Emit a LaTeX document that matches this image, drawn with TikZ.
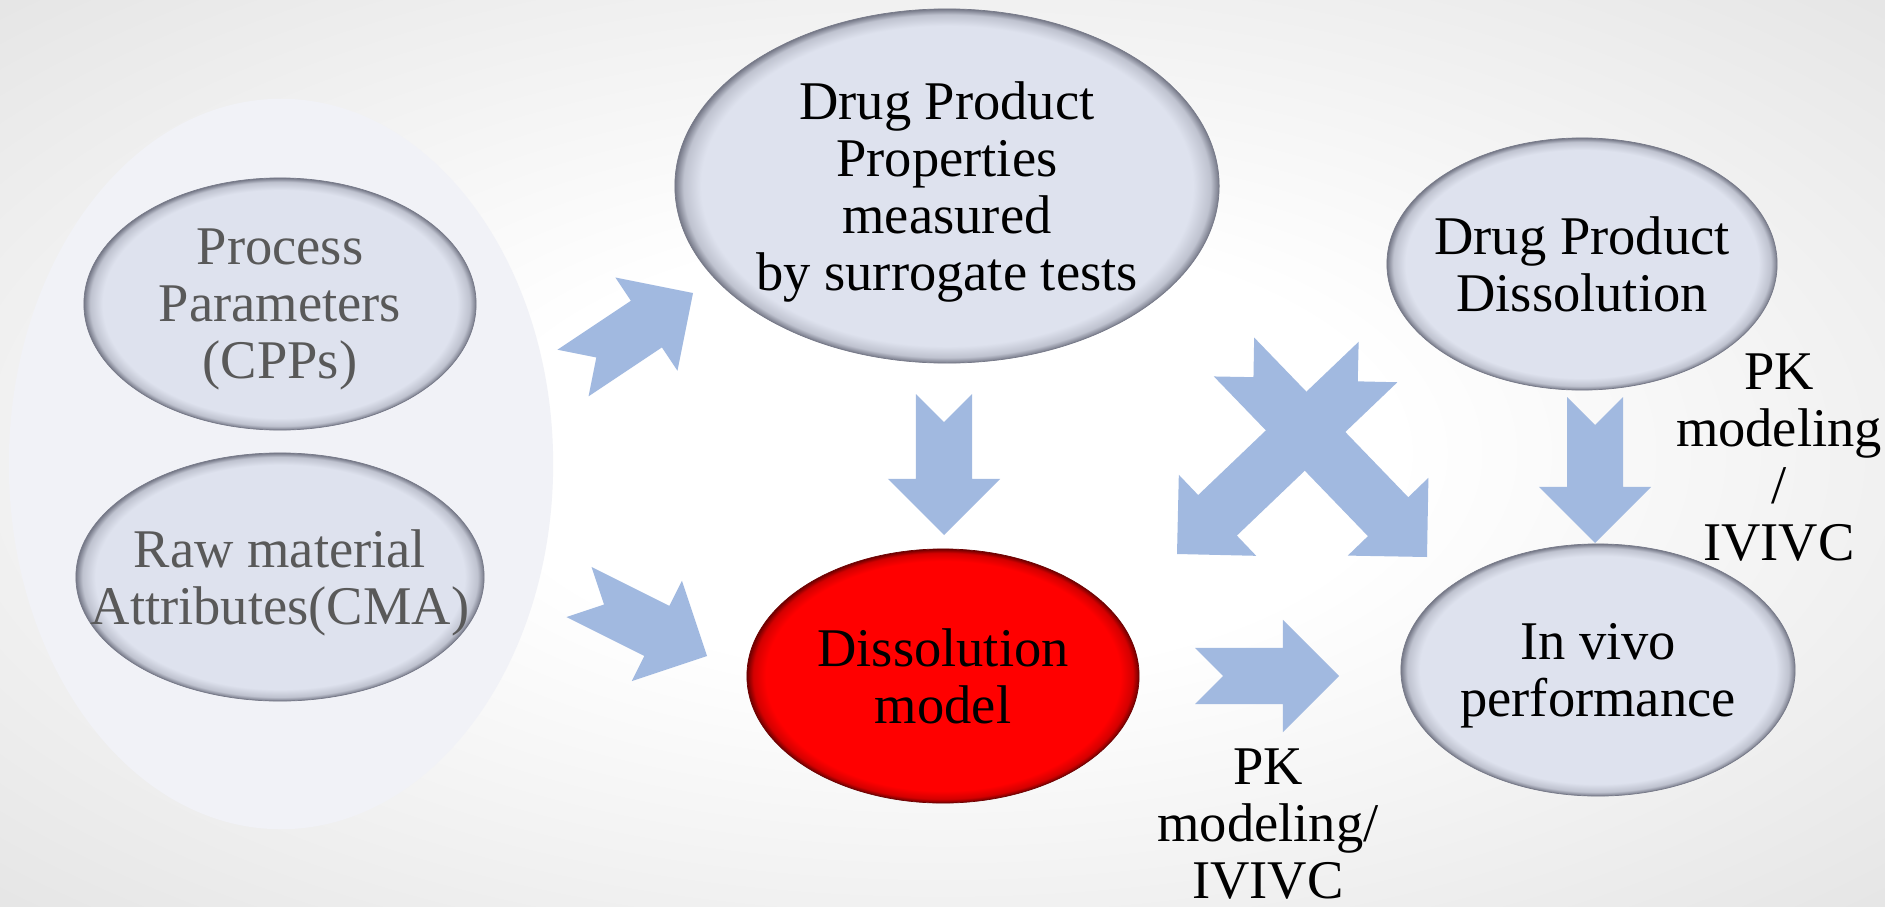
\documentclass[tikz,border=0pt]{standalone}
\usepackage{fontspec}
\setmainfont{Liberation Serif}
\usetikzlibrary{calc,shapes.geometric}

\definecolor{blobfill}{RGB}{222,226,238}
\definecolor{blobrim}{RGB}{118,121,136}
\definecolor{modelfill}{RGB}{255,0,0}
\definecolor{modelrim}{RGB}{110,0,0}
\definecolor{groupfill}{RGB}{241,242,247}
\definecolor{arrowblue}{RGB}{161,185,224}
\definecolor{labelgray}{RGB}{89,89,89}
\definecolor{bgedge}{RGB}{229,229,229}

\pgfdeclareradialshading{blobshade}{\pgfpointorigin}{color(0bp)=(blobfill); color(22.6bp)=(blobfill); color(24.2bp)=(blobfill!70!blobrim); color(25bp)=(blobrim); color(50bp)=(blobrim)}
\pgfdeclareradialshading{modelshade}{\pgfpointorigin}{color(0bp)=(modelfill); color(22.6bp)=(modelfill); color(24.2bp)=(modelfill!70!modelrim); color(25bp)=(modelrim); color(50bp)=(modelrim)}
\pgfdeclareradialshading{glow}{\pgfpointorigin}{color(0bp)=(white); color(12bp)=(white); color(36bp)=(bgedge); color(50bp)=(bgedge)}

% notched block arrow from tail to tip
\def\blockarrow(#1)(#2){%
  \coordinate (hb) at ($(#2)!0.56cm!(#1)$);
  \fill[arrowblue] ($(#1)!0.28cm!90:(#2)$) -- ($(#1)!0.28cm!(#2)$) -- ($(#1)!0.28cm!-90:(#2)$)
    -- ($(hb)!0.28cm!-90:(#2)$) -- ($(hb)!0.56cm!-90:(#2)$) -- (#2)
    -- ($(hb)!0.56cm!90:(#2)$) -- ($(hb)!0.28cm!90:(#2)$) -- cycle;}

\tikzset{
  txt/.style={align=center, font=\fontsize{15.5}{16.2}\selectfont},
  blob/.style={ellipse, shading=blobshade, draw=blobrim, line width=0.2pt, inner sep=-30pt, text depth=0pt, txt},
  redblob/.style={blob, shading=modelshade, draw=modelrim}
}

\begin{document}
\begin{tikzpicture}[x=0.01cm, y=-0.01cm]
		%%%%% START %%%%%
		\useasboundingbox (0,0) rectangle (1885,906);
		\fill[shading=glow] (0,0) rectangle (1885,906);
		
		\node[ellipse, fill=groupfill, minimum width=5.44cm, minimum height=7.30cm] (group) at (281,464) {};
		
		\node[blob, minimum width=3.92cm, minimum height=2.52cm, text=labelgray] (cpp) at (280,304) {Process\\Parameters\\(CPPs)};
		\node[blob, minimum width=4.08cm, minimum height=2.48cm, text=labelgray] (cma) at (280,577) {Raw material\\Attributes(CMA)};
		
		\node[blob, minimum width=5.44cm, minimum height=3.54cm] (props) at (947,186) {Drug Product\\Properties\\measured\\by surrogate tests};
		\node[blob, minimum width=3.90cm, minimum height=2.52cm] (diss) at (1582,264) {Drug Product\\Dissolution};
		\node[redblob, minimum width=3.92cm, minimum height=2.54cm] (model) at (943,676) {Dissolution\\model};
		\node[blob, minimum width=3.94cm, minimum height=2.52cm] (vivo) at (1598,670) {In vivo\\performance};
		
		\node[txt] (pkbottom) at (1268,824) {PK\\modeling/\\IVIVC};
		\node[txt] (pkright) at (1779,458) {PK\\modeling\\/\\IVIVC};
		
		% arrows
		\coordinate (cpptail) at (573,373);  \coordinate (cpptip) at (693,293);
		\coordinate (cmatail) at (579,592);  \coordinate (cmatip) at (707,656);
		\coordinate (propstail) at (944,394); \coordinate (propstip) at (944,535);
		\coordinate (modeltail) at (1195,676); \coordinate (modeltip) at (1339,676);
		\coordinate (disstail) at (1595,397); \coordinate (disstip) at (1595,543);
		\coordinate (crossatail) at (1234,357); \coordinate (crossatip) at (1427,557);
		\coordinate (crossbtail) at (1378,362); \coordinate (crossbtip) at (1177,554);
		
		\blockarrow(cpptail)(cpptip)
		\blockarrow(cmatail)(cmatip)
		\blockarrow(propstail)(propstip)
		\blockarrow(modeltail)(modeltip)
		\blockarrow(disstail)(disstip)
		\blockarrow(crossatail)(crossatip)
		\blockarrow(crossbtail)(crossbtip)
		%%%%% END %%%%%
	\end{tikzpicture}
\end{document}
